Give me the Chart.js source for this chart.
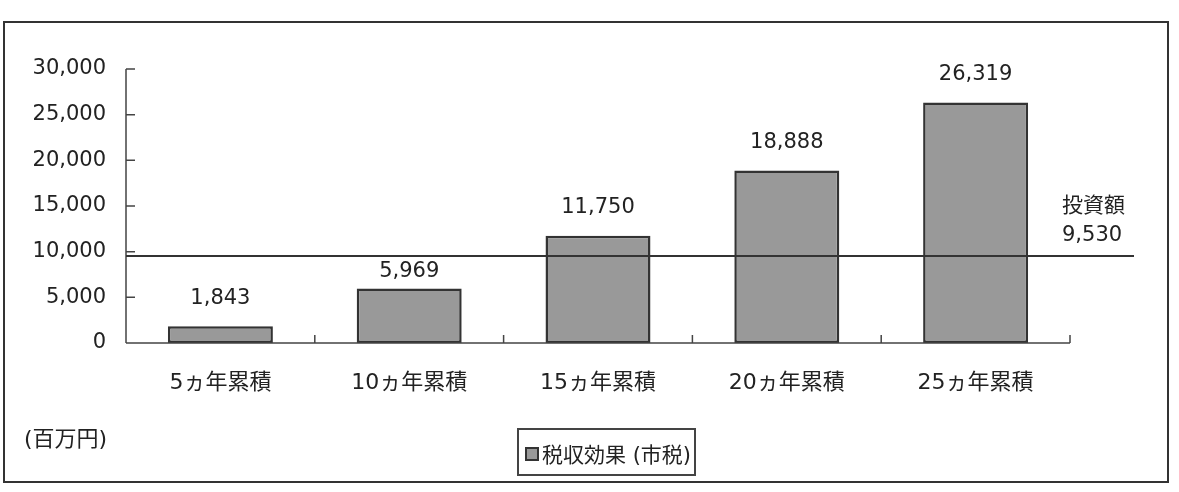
<!DOCTYPE html>
<html>
<head>
<meta charset="utf-8">
<script src="https://cdn.jsdelivr.net/npm/chart.js@4"></script>
<style>
  html, body { margin: 0; padding: 0; background: #fff; }
  #wrap { position: relative; width: 1179px; height: 492px; }
  #frame { position: absolute; left: 3px; top: 21px; width: 1162px; height: 458px; border: 2px solid #333; }
  #chart { position: absolute; left: 0; top: 0; }
  .txt { position: absolute; font-family: "DejaVu Sans", "Noto Sans CJK JP", sans-serif; font-size: 21px; color: #222; white-space: nowrap; }
  #unit { left: 24px; top: 420px; font-size: 22px; }
  #legend { left: 517px; top: 428px; width: 175px; height: 44px; border: 2px solid #444; }
  #legend .box { position: absolute; left: 6px; top: 17px; width: 10px; height: 10px; background: #999; border: 2px solid #333; }
  #legend .lbl { position: absolute; left: 23px; top: 8px; }
</style>
</head>
<body>
<div id="wrap">
  <div id="frame"></div>
  <canvas id="chart" width="1179" height="492"></canvas>
  <div class="txt" id="unit">(百万円)</div>
  <div class="txt" id="legend"><span class="box"></span><span class="lbl">税収効果 (市税)</span></div>
</div>
<script>
// data
const categories = ["5ヵ年累積", "10ヵ年累積", "15ヵ年累積", "20ヵ年累積", "25ヵ年累積"];
const taxEffect = [1843, 5969, 11750, 18888, 26319];
const investLabel = "投資額";
const investment = 9530;
const yTicks = [0, 5000, 10000, 15000, 20000, 25000, 30000];

const FONT = '"DejaVu Sans", "Noto Sans CJK JP", sans-serif';

function fmt(v) {
  return v.toLocaleString("en-US");
}

// axis lines, inward ticks, investment line and labels
const decorPlugin = {
  id: "decor",
  afterDatasetsDraw(chart) {
    const ctx = chart.ctx;
    const area = chart.chartArea;
    const y = chart.scales.y;
    ctx.save();
    ctx.strokeStyle = "#444";
    ctx.lineWidth = 1.5;

    // y axis + ticks
    ctx.beginPath();
    ctx.moveTo(area.left, y.getPixelForValue(30000));
    ctx.lineTo(area.left, y.getPixelForValue(0));
    yTicks.forEach((t) => {
      const py = y.getPixelForValue(t);
      ctx.moveTo(area.left, py);
      ctx.lineTo(area.left + 9, py);
    });
    // x axis + category boundary ticks
    const y0 = y.getPixelForValue(0);
    ctx.moveTo(area.left, y0);
    ctx.lineTo(area.right, y0);
    const step = (area.right - area.left) / categories.length;
    for (let i = 1; i <= categories.length; i++) {
      const px = area.left + step * i;
      ctx.moveTo(px, y0);
      ctx.lineTo(px, y0 - 8);
    }
    ctx.stroke();

    // investment line
    const iy = y.getPixelForValue(investment);
    ctx.strokeStyle = "#333";
    ctx.lineWidth = 2;
    ctx.beginPath();
    ctx.moveTo(area.left, iy);
    ctx.lineTo(area.right + 64, iy);
    ctx.stroke();

    ctx.fillStyle = "#222";
    ctx.font = "21px " + FONT;
    ctx.textAlign = "left";
    ctx.textBaseline = "middle";
    ctx.fillText(investLabel, area.right - 8, iy - 49);
    ctx.fillText(fmt(investment), area.right - 8, iy - 20);

    // value labels above bars
    ctx.textAlign = "center";
    const meta = chart.getDatasetMeta(0);
    meta.data.forEach((bar, i) => {
      let ly = bar.y - 28;
      if (Math.abs(ly - iy) < 14) ly = bar.y - 17;
      ctx.fillText(fmt(taxEffect[i]), bar.x, ly);
    });
    ctx.restore();
  },
};

new Chart(document.getElementById("chart"), {
  type: "bar",
  data: {
    labels: categories,
    datasets: [
      {
        label: "税収効果 (市税)",
        data: taxEffect,
        backgroundColor: "#999999",
        borderColor: "#333333",
        borderWidth: 2.5,
        borderSkipped: false,
        categoryPercentage: 1,
        barPercentage: 0.556,
      },
    ],
  },
  options: {
    responsive: false,
    animation: false,
    layout: {
      padding: { left: 0, top: 69, right: 109, bottom: 89 },
    },
    plugins: {
      legend: { display: false },
      tooltip: { enabled: false },
    },
    scales: {
      x: {
        grid: { display: false, drawTicks: false },
        border: { display: false },
        ticks: {
          color: "#222",
          font: { size: 22, family: FONT },
          padding: 27,
          maxRotation: 0,
        },
        afterFit(scale) {
          scale.height = 60;
        },
      },
      y: {
        min: 0,
        max: 30000,
        grid: { display: false, drawTicks: false },
        border: { display: false },
        afterBuildTicks(scale) {
          scale.ticks = yTicks.map((v) => ({ value: v }));
        },
        ticks: {
          color: "#222",
          font: { size: 21, family: FONT },
          padding: 20,
          callback: (v) => fmt(v),
        },
        afterFit(scale) {
          scale.width = 126;
        },
      },
    },
  },
  plugins: [decorPlugin],
});
</script>
</body>
</html>
